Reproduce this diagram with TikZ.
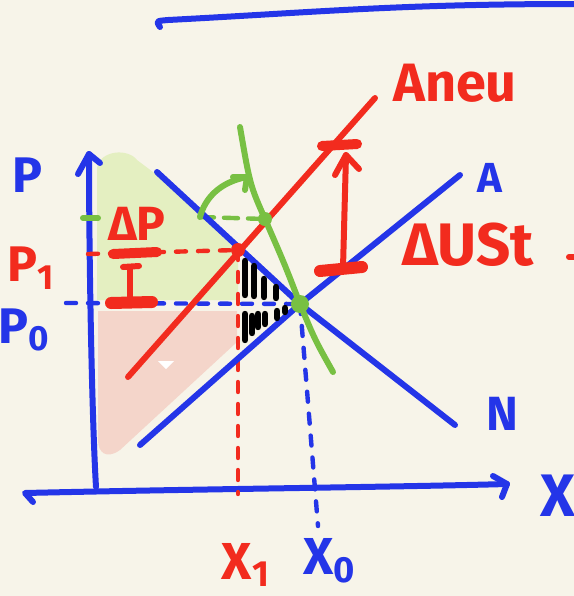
\documentclass[tikz,border=0pt]{standalone}
\usepackage{fontspec}
\setmainfont{Fira Sans}
\usetikzlibrary{arrows.meta}
\definecolor{bg}{HTML}{F7F4E9}
\definecolor{pblue}{HTML}{2435E8}
\definecolor{pred}{HTML}{F22B1E}
\definecolor{pgreen}{HTML}{78C043}
\definecolor{fgreen}{HTML}{E4EFC1}
\definecolor{fpink}{HTML}{F4D5CA}
\tikzset{
  pen/.style={line width=3pt, line cap=round, line join=round},
  bluepen/.style={pen, draw=pblue},
  redpen/.style={pen, draw=pred},
  greenpen/.style={pen, draw=pgreen},
  dashline/.style={line width=2.2pt, line cap=round, dash pattern=on 5pt off 6pt},
  barpen/.style={line width=5pt, line cap=round, draw=pred},
  hatchpen/.style={line width=3.2pt, line cap=round, draw=black},
  lbl/.style={inner sep=0pt, font=\bfseries\fontsize{#1}{#1}\selectfont},
  spot/.style={circle, inner sep=0pt, minimum size=#1},
}
\begin{document}
\begin{tikzpicture}[x=0.5pt,y=-0.5pt]
\fill[bg] (0,0) rectangle (574,596);
\useasboundingbox (0,0) rectangle (574,596);

% key points
\coordinate (yb) at (96,487);
\coordinate (yt) at (89,154);
\coordinate (xl) at (25,493);
\coordinate (xr) at (507,484);
\coordinate (tl) at (160,27);
\coordinate (tr) at (576,4);
\coordinate (E0) at (300,304);
\coordinate (E1) at (238,250);
\coordinate (G1) at (265,219);
\coordinate (Nt) at (157,172);
\coordinate (Nb) at (455,425);
\coordinate (Ab) at (140,445);
\coordinate (At) at (460,175);
\coordinate (Rb) at (128,377);
\coordinate (Rt) at (375,98);
\coordinate (Gt) at (240,127);
\coordinate (Gb) at (333,372);
\coordinate (Gs) at (200,217);
\coordinate (Ga) at (247,177);
\coordinate (P0L) at (66,303);
\coordinate (P1L) at (88,254);
\coordinate (X1b) at (238,494);
\coordinate (X0b) at (318,526);
\coordinate (Ut) at (346,155);
\coordinate (Ub) at (343,268);
\coordinate (Dt) at (130,267);
\coordinate (Db) at (130,300);

% shaded areas
\fill[fgreen] (97,300) -- (97,168) .. controls (100,150) and (128,148) .. (137,160) -- (165,181) -- (E1) -- (238,300) -- cycle;
\fill[fpink] (98,311) -- (237,311) -- (237,342) -- (120,450) .. controls (106,460) and (98,452) .. (98,440) -- cycle;
\fill[white] (158,361) -- (174,361) -- (166,369) -- cycle;

% top stroke
\draw[bluepen] (tl) .. controls (156,21) .. (168,20) .. controls (320,12) and (400,4) .. (tr);

% axes
\draw[bluepen] (yb) .. controls (92,420) and (89,260) .. (yt);
\draw[bluepen] (yt) ++(-11,20) -- (yt) -- ++(11,9);
\draw[bluepen] (xl) ++(8,9) -- (xl) .. controls (200,489) and (400,487) .. (xr);
\draw[bluepen] (xr) ++(-14,-8) -- (xr) -- ++(-5,13);

% dashed guides
\draw[dashline, draw=pblue] (P0L) -- (E0);
\draw[dashline, draw=pred] (P1L) -- (E1);
\draw[dashline, draw=pred] (E1) -- (X1b);
\draw[dashline, draw=pblue] (E0) -- (X0b);
\draw[dashline, draw=pgreen, dash pattern=on 7pt off 5pt] (Gs) -- (G1);

% curves
\draw[bluepen] (Nt) -- (E0) -- (Nb);
\draw[bluepen] (Ab) -- (E0) -- (At);
\draw[redpen] (Rb) -- (Rt);
\draw[greenpen] (Gt) .. controls (250,185) .. (G1) .. controls (285,265) .. (E0) .. controls (315,340) .. (Gb);

% green marks
\draw[greenpen] (83,218) -- (98,218);
\draw[greenpen] (Gs) .. controls (205,198) and (220,182) .. (Ga);
\draw[greenpen] (Ga) ++(-14,0) -- (Ga) -- ++(-2,13);

% hatching
\foreach \x/\a/\b in {245/261/295, 254/266/296, 264/279/297, 276/287/298}
  \draw[hatchpen] (\x,\a) -- (\x,\b);
\foreach \x/\a/\b in {245/314/340, 252/316/333, 258/314/327, 265/314/324, 277/311/318, 285/308/312}
  \draw[hatchpen] (\x,\a) -- (\x,\b);

% tax arrow
\draw[redpen] (Ub) -- (Ut);
\draw[redpen] (Ut) ++(-11,20) -- (Ut) -- ++(13,14);
\draw[barpen] (322,146) -- (357,144);
\draw[barpen, line width=6pt] (320,271) -- (362,267);

% delta P
\draw[barpen] (113,254) -- (157,252);
\draw[barpen, line width=6pt] (111,303) -- (152,302);
\draw[redpen] (Db) -- (Dt);
\draw[redpen] (123,267) -- (139,266);

% points
\node[spot=9pt, fill=pgreen] (e0) at (E0) {};
\node[spot=7pt, fill=pgreen] (g1) at (G1) {};
\node[spot=7pt, fill=pred] (e1) at (E1) {};

% edge mark
\draw[redpen] (569,257) -- (578,257);

% labels
\node[lbl=25, text=pblue] (lP) at (27,175) {P};
\node[lbl=25, text=pred] (lP1) at (31,268) {P\textsubscript{1}};
\node[lbl=25, text=pblue] (lP0) at (24,330) {P\textsubscript{0}};
\node[lbl=30, text=pblue] (lX) at (558,496) {X};
\node[lbl=26, text=pred] (lX1) at (246,565) {X\textsubscript{1}};
\node[lbl=26, text=pblue] (lX0) at (330,561) {X\textsubscript{0}};
\node[lbl=21, text=pblue] (lA) at (490,178) {A};
\node[lbl=24, text=pblue] (lN) at (502,414) {N};
\node[lbl=27, text=pred] (lAn) at (455,83) {Aneu};
\node[lbl=30, text=pred] (lU) at (468,245) {ΔUSt};
\node[lbl=24, text=pred] (lDP) at (137,224) {ΔP};
\end{tikzpicture}
\end{document}
